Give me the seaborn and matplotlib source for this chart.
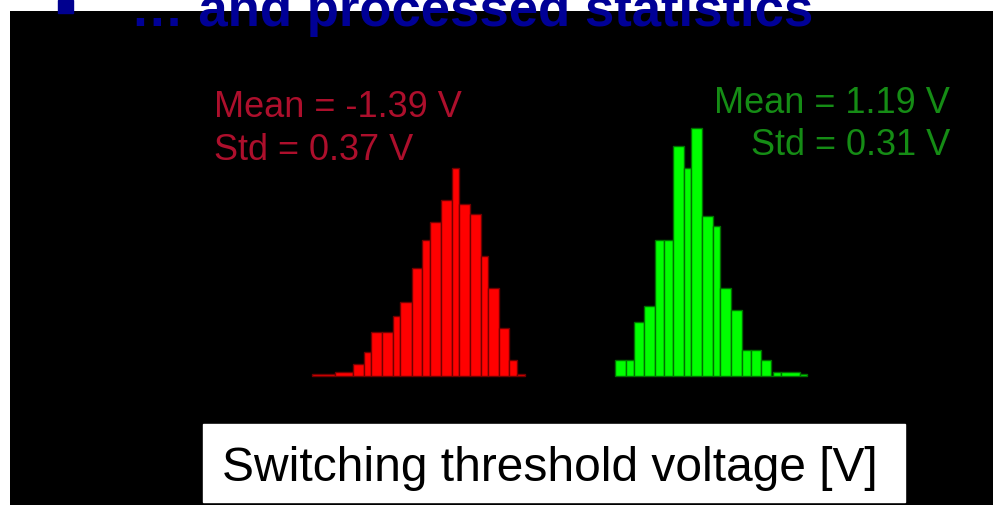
import matplotlib
matplotlib.use("Agg")
import matplotlib.pyplot as plt
import seaborn as sns
import numpy as np
from matplotlib.patches import Rectangle

# ---- data ----
red_edges = [-2.72, -2.49, -2.30, -2.19, -2.12, -2.00, -1.89, -1.82, -1.69, -1.59, -1.51,
             -1.39, -1.28, -1.21, -1.09, -0.98, -0.91, -0.79, -0.69, -0.61, -0.52]
red_counts = [1, 2, 6, 12, 22, 22, 30, 37, 54, 68, 77, 88, 104, 86, 81, 60, 44, 24, 8, 1]

green_edges = [0.41, 0.52, 0.60, 0.71, 0.82, 0.91, 1.01, 1.12, 1.19, 1.31, 1.42,
               1.49, 1.61, 1.72, 1.81, 1.92, 2.02, 2.04, 2.12, 2.32, 2.39]
green_counts = [8, 8, 27, 35, 68, 68, 115, 104, 124, 80, 75, 44, 33, 13, 13, 8, 0, 2, 2, 1]

major_ticks = [-2, -1, 0, 1, 2]
minor_ticks = [-1.5, -0.5, 0.5, 1.5]

title_text = "… and processed statistics"
xlabel_text = "Switching threshold voltage [V]"
red_stats = ["Mean = -1.39 V", "Std = 0.37 V"]
green_stats = ["Mean = 1.19 V", "Std = 0.31 V"]

# ---- figure ----
sns.set_theme(style="white")
plt.rcParams['font.family'] = ['Liberation Sans', 'DejaVu Sans']

W, H = 993, 505
fig = plt.figure(figsize=(W / 100, H / 100), dpi=100, facecolor="white")

def fx(px):
    return px / W

def fy(py):
    return 1 - py / H

ax = fig.add_axes([fx(10), 0, fx(993) - fx(10), fy(11)])
ax.set_facecolor("black")

red_centers = [(a + b) / 2 for a, b in zip(red_edges[:-1], red_edges[1:])]
green_centers = [(a + b) / 2 for a, b in zip(green_edges[:-1], green_edges[1:])]

sns.histplot(x=red_centers, weights=red_counts, bins=red_edges, ax=ax,
             color="#ff0000", edgecolor="#700000", linewidth=1.0, alpha=1)
sns.histplot(x=green_centers, weights=green_counts, bins=green_edges, ax=ax,
             color="#00ff00", edgecolor="#007000", linewidth=1.0, alpha=1)

ax.set_xlim(-5.848, 4.317)
ax.set_ylim(-64.5, 182.5)
ax.set_xlabel("")
ax.set_ylabel("")
for s in ["left", "right", "top", "bottom"]:
    ax.spines[s].set_visible(False)
ax.spines["bottom"].set_position(("data", 0))
ax.set_xticks(major_ticks)
ax.set_xticks(minor_ticks, minor=True)
ax.set_yticks([])
ax.tick_params(axis="x", which="major", direction="in", length=6.5, width=2,
               color="black", labelbottom=False, bottom=True)
ax.tick_params(axis="x", which="minor", direction="in", length=1.5, width=1.5,
               color="black", bottom=True)

# decorations of the slide
fig.patches.append(Rectangle((fx(58), fy(13)), fx(73) - fx(58), fy(0) - fy(13),
                             transform=fig.transFigure, color="#00008f", zorder=5))
fig.text(fx(131), fy(26), title_text, color="#000096", fontsize=38,
         fontweight="bold", va="baseline", ha="left", zorder=6)

fig.patches.append(Rectangle((fx(203), fy(502)), fx(905) - fx(203), fy(424) - fy(502),
                             transform=fig.transFigure, color="white", zorder=5))
fig.text(fx(550), fy(481), xlabel_text, color="black", fontsize=34.5,
         va="baseline", ha="center", zorder=6)

red_col = "#ad0f2c"
green_col = "#158c15"
fig.text(fx(214), fy(117), red_stats[0], color=red_col, fontsize=26, va="baseline", ha="left")
fig.text(fx(214), fy(160), red_stats[1], color=red_col, fontsize=26, va="baseline", ha="left")
fig.text(fx(950), fy(113), green_stats[0], color=green_col, fontsize=26, va="baseline", ha="right")
fig.text(fx(950), fy(155), green_stats[1], color=green_col, fontsize=26, va="baseline", ha="right")

fig.savefig("out.png", dpi=100, facecolor="white")
